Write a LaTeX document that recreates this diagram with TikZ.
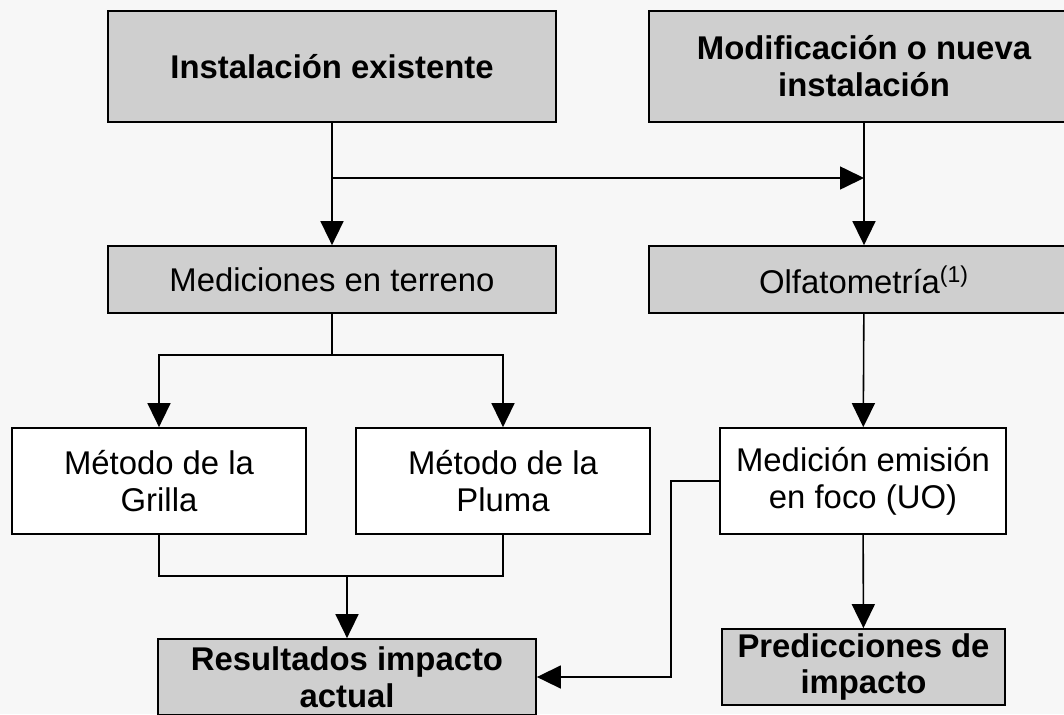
\documentclass[tikz,border=0pt]{standalone}
\usepackage{fontspec}
\setmainfont{Liberation Sans}
\usepackage{tikz}
\usetikzlibrary{arrows.meta,positioning,calc}
\tikzset{greybox/.style={draw,line width=1pt,fill=black!19,align=center,inner sep=0pt,
        font=\fontsize{18.7}{21}\selectfont}}
\tikzset{whitebox/.style={greybox,fill=white}}
\tikzset{flow/.style={line width=0.9pt,-{Triangle[width=0.46cm,length=0.48cm]}}}
\tikzset{plain/.style={line width=0.9pt}}

\begin{document}
\begin{tikzpicture}[x=0.02cm,y=-0.02cm]
        \clip (0,0) rectangle (1064,714);
        \fill [black!3] (0,0) rectangle (1064,714);
        % top row
        \node (inst) at (332,66.5) [greybox,minimum width=448*0.02cm,minimum height=111*0.02cm]
            {\bfseries Instalación existente};
        \node (modif) at (864,66.5) [greybox,minimum width=430*0.02cm,minimum height=111*0.02cm]
            {\bfseries Modificación o nueva\\ \bfseries instalación};
        % second row
        \node (medic) at (332,279.5) [greybox,minimum width=448*0.02cm,minimum height=67*0.02cm]
            {Mediciones en terreno};
        \node (olfa) at (864,279.5) [greybox,minimum width=430*0.02cm,minimum height=67*0.02cm]
            {Olfatometría\textsuperscript{(1)}};
        % methods
        \node (grilla) at (159,481) [whitebox,minimum width=294*0.02cm,minimum height=106*0.02cm]
            {Método de la\\ Grilla};
        \node (pluma) at (503,481) [whitebox,minimum width=294*0.02cm,minimum height=106*0.02cm]
            {Método de la\\ Pluma};
        \node (emision) at (863,481) [whitebox,minimum width=286*0.02cm,minimum height=106*0.02cm]
            {Medición emisión\\ en foco (UO)};
        % results
        \node (result) at (347,677) [greybox,minimum width=378*0.02cm,minimum height=76*0.02cm]
            {\bfseries Resultados impacto\\ \bfseries actual};
        \node (pred) at (863.5,667) [greybox,minimum width=283*0.02cm,minimum height=76*0.02cm]
            {\bfseries Predicciones de\\ \bfseries impacto};
        \coordinate (split1) at (332,178);
        \coordinate (split2) at (332,355);
        \coordinate (join) at (347,576);
        \coordinate (bend) at (671,677);
        \draw [flow] (inst) -- (medic);
        \draw [flow] (split1) -- (split1 -| modif);
        \draw [flow] (modif) -- (olfa);
        \draw [plain] (medic) -- (split2);
        \draw [flow] (split2) -| (grilla);
        \draw [flow] (split2) -| (pluma);
        \draw [flow] (olfa) -- (emision);
        \draw [plain] (grilla) |- (join) -| (pluma);
        \draw [flow] (join) -- (result);
        \draw [flow] (emision) -- (pred);
        \draw [flow] (emision.west) -| (bend) -- (result.east);
\end{tikzpicture}
\end{document}
